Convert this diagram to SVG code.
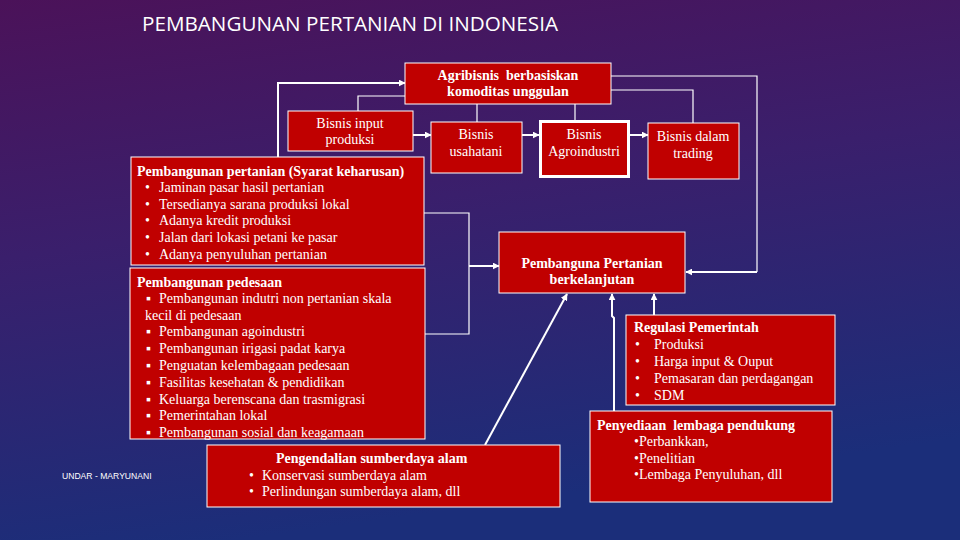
<svg xmlns="http://www.w3.org/2000/svg" width="960" height="540" viewBox="0 0 960 540">
<defs>
<linearGradient id="bg" x1="0" y1="0" x2="0.25" y2="1">
<stop offset="0" stop-color="#4b1259"/>
<stop offset="0.45" stop-color="#3a1f6c"/>
<stop offset="1" stop-color="#1b2e7a"/>
</linearGradient>
<marker id="ah" viewBox="0 0 10 10" refX="9" refY="5" markerWidth="7" markerHeight="7" markerUnits="userSpaceOnUse" orient="auto">
<path d="M0,0 L10,5 L0,10 z" fill="#fff"/>
</marker>
<style>
.box{fill:#c00000;stroke:#fff;stroke-width:1}
.t{font-size:14px;fill:#fff;white-space:pre}
.b{font-weight:bold}
.c{text-anchor:middle}
.ln{fill:none;stroke:#fff;stroke-width:1.2}
.ar{fill:none;stroke:#fff;stroke-width:2;marker-end:url(#ah)}
</style>
</defs>
<rect width="960" height="540" fill="url(#bg)"/>
<text x="142" y="31" font-family="Open Sans, DejaVu Sans, sans-serif" font-size="20" textLength="416" lengthAdjust="spacingAndGlyphs" fill="#fff">PEMBANGUNAN PERTANIAN DI INDONESIA</text>
<text x="62" y="479" font-family="Liberation Sans, Arial, sans-serif" font-size="8.6" fill="#fff">UNDAR - MARYUNANI</text>

<g id="connectors">
<polyline class="ar" points="278,158 278,83 405,83"/>
<polyline class="ln" points="358,111 358,96 405,96"/>
<line class="ln" x1="477" y1="104" x2="477" y2="122"/>
<line class="ln" x1="575" y1="104" x2="575" y2="120"/>
<polyline class="ln" points="611,90 693,90 693,123"/>
<polyline class="ln" points="611,76 757,76 757,272"/>
<line class="ar" x1="757" y1="272" x2="686" y2="272"/>
<line class="ar" x1="413" y1="135" x2="431" y2="135"/>
<line class="ar" x1="522" y1="135" x2="539" y2="135"/>
<line class="ar" x1="630" y1="135" x2="648" y2="135"/>
<polyline class="ln" points="424,213 469,213 469,334 425,334"/>
<line class="ar" x1="469" y1="266" x2="499" y2="266"/>
<line class="ar" x1="485" y1="445" x2="567" y2="294"/>
<polyline class="ar" points="614,411 614,318 612,316 612,294"/>
<line class="ar" x1="654" y1="315" x2="654" y2="294"/>
</g>

<g font-family="Liberation Serif, Times New Roman, DejaVu Serif, serif">
<g id="agribisnis">
<rect class="box" x="405" y="63" width="206" height="41"/>
<text class="t b c" x="508" y="80">Agribisnis  berbasiskan</text>
<text class="t b c" x="508" y="96">komoditas unggulan</text>
</g>
<g id="bisnis-input">
<rect class="box" x="288" y="111" width="125" height="40"/>
<text class="t c" x="350" y="128">Bisnis input</text>
<text class="t c" x="350" y="144">produksi</text>
</g>
<g id="bisnis-usahatani">
<rect class="box" x="431" y="122" width="91" height="51"/>
<text class="t c" x="476" y="139">Bisnis</text>
<text class="t c" x="476" y="156">usahatani</text>
</g>
<g id="bisnis-agroindustri">
<rect x="540.5" y="121.5" width="88" height="55" fill="#c00000" stroke="#fff" stroke-width="3"/>
<text class="t c" x="584" y="139">Bisnis</text>
<text class="t c" x="584" y="156">Agroindustri</text>
</g>
<g id="bisnis-trading">
<rect class="box" x="648" y="123" width="91" height="56"/>
<text class="t c" x="693" y="141">Bisnis dalam</text>
<text class="t c" x="693" y="158">trading</text>
</g>

<g id="pembangunan-pertanian">
<rect class="box" x="131" y="157" width="293" height="108"/>
<text class="t b" x="137" y="176">Pembangunan pertanian (Syarat keharusan)</text>
<g class="t">
<text x="145" y="192">•</text><text x="159" y="192">Jaminan pasar hasil pertanian</text>
<text x="145" y="209">•</text><text x="159" y="209">Tersedianya sarana produksi lokal</text>
<text x="145" y="225">•</text><text x="159" y="225">Adanya kredit produksi</text>
<text x="145" y="242">•</text><text x="159" y="242">Jalan  dari lokasi petani ke pasar</text>
<text x="145" y="259">•</text><text x="159" y="259">Adanya penyuluhan pertanian</text>
</g>
</g>

<g id="pembangunan-pedesaan">
<rect class="box" x="130" y="268" width="295" height="171"/>
<text class="t b" x="137" y="287">Pembangunan pedesaan</text>
<g class="t">
<text x="146" y="303">▪</text><text x="159" y="303">Pembangunan indutri  non pertanian  skala</text>
<text x="145" y="320">kecil  di pedesaan</text>
<text x="146" y="336">▪</text><text x="159" y="336">Pembangunan  agoindustri</text>
<text x="146" y="353">▪</text><text x="159" y="353">Pembangunan irigasi padat karya</text>
<text x="146" y="370">▪</text><text x="159" y="370">Penguatan kelembagaan pedesaan</text>
<text x="146" y="387">▪</text><text x="159" y="387">Fasilitas kesehatan &amp; pendidikan</text>
<text x="146" y="404">▪</text><text x="159" y="404">Keluarga berenscana dan trasmigrasi</text>
<text x="146" y="420">▪</text><text x="159" y="420">Pemerintahan lokal</text>
<text x="146" y="437">▪</text><text x="159" y="437">Pembangunan sosial dan keagamaan</text>
</g>
</g>

<g id="pengendalian">
<rect class="box" x="207" y="445" width="353" height="62"/>
<text class="t b" x="276" y="463">Pengendalian sumberdaya alam</text>
<g class="t">
<text x="249" y="480">•</text><text x="262" y="480">Konservasi sumberdaya alam</text>
<text x="249" y="496">•</text><text x="262" y="496">Perlindungan sumberdaya alam, dll</text>
</g>
</g>

<g id="pembanguna-berkelanjutan">
<rect class="box" x="499" y="232" width="186" height="61"/>
<text class="t b c" x="592" y="268">Pembanguna Pertanian</text>
<text class="t b c" x="592" y="284">berkelanjutan</text>
</g>

<g id="regulasi">
<rect class="box" x="626" y="315" width="209" height="90"/>
<text class="t b" x="634" y="332">Regulasi Pemerintah</text>
<g class="t">
<text x="635" y="349">•</text><text x="654" y="349">Produksi</text>
<text x="635" y="366">•</text><text x="654" y="366">Harga input  &amp; Ouput</text>
<text x="635" y="383">•</text><text x="654" y="383">Pemasaran dan perdagangan</text>
<text x="635" y="400">•</text><text x="654" y="400">SDM</text>
</g>
</g>

<g id="penyediaan">
<rect class="box" x="590" y="411" width="242" height="91"/>
<text class="t b" x="597" y="430">Penyediaan  lembaga pendukung</text>
<g class="t">
<text x="634" y="446">•Perbankkan,</text>
<text x="634" y="463">•Penelitian</text>
<text x="634" y="479">•Lembaga Penyuluhan, dll</text>
</g>
</g>
</g>
</svg>
